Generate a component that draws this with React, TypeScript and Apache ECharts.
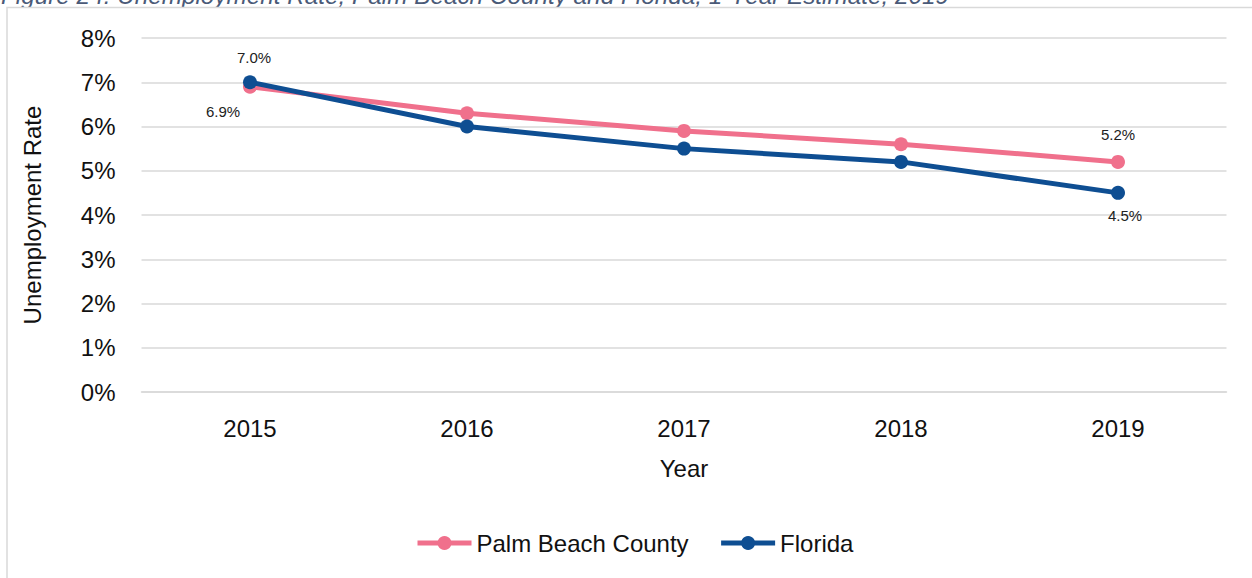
import React, { useEffect, useRef } from "react";
import * as echarts from "echarts";

const titleText = "Figure 24. Unemployment Rate, Palm Beach County and Florida, 1-Year Estimate, 2019";
const years = ["2015", "2016", "2017", "2018", "2019"];
const palmBeach = [6.9, 6.3, 5.9, 5.6, 5.2];
const florida = [7.0, 6.0, 5.5, 5.2, 4.5];
const seriesNames = ["Palm Beach County", "Florida"];
const yTicks = [0, 1, 2, 3, 4, 5, 6, 7, 8];

const PINK = "#F0708C";
const BLUE = "#0E4E92";
const FONT = "'Liberation Sans', Arial, sans-serif";

export default function App() {
  const ref = useRef<HTMLDivElement>(null);
  useEffect(() => {
    if (!ref.current) return;
    const chart = echarts.init(ref.current, null, { renderer: "svg" });
    const labelStyle = { fontSize: 15, color: "#222", fontFamily: FONT, formatter: (p: any) => p.value.toFixed(1) + "%" };
    const pbData = palmBeach.map((v, i) => {
      if (i === 0) return { value: v, label: { show: true, position: "bottom", offset: [-27, 5], ...labelStyle } };
      if (i === palmBeach.length - 1) return { value: v, label: { show: true, position: "top", offset: [0, -8], ...labelStyle } };
      return v;
    });
    const flData = florida.map((v, i) => {
      if (i === 0) return { value: v, label: { show: true, position: "top", offset: [4, -5], ...labelStyle } };
      if (i === florida.length - 1) return { value: v, label: { show: true, position: "bottom", offset: [7, 3], ...labelStyle } };
      return v;
    });
    chart.setOption({
      animation: false,
      textStyle: { fontFamily: FONT },
      graphic: [
        {
          type: "text",
          x: 1,
          y: -4.5,
          style: {
            text: titleText,
            font: `italic 24.3px ${FONT}`,
            fill: "#4A5A78",
            verticalAlign: "middle",
          },
          silent: true,
          z: 1,
        },
        {
          type: "rect",
          shape: { x: 0, y: 7.5, width: 1252, height: 8 },
          style: { fill: "#fff" },
          silent: true,
          z: 2,
        },
        {
          type: "rect",
          shape: { x: 7, y: 7.5, width: 1300, height: 700 },
          style: { fill: "none", stroke: "#D9D9D9", lineWidth: 1.5 },
          silent: true,
          z: 3,
        },
      ],
      grid: { left: 141.5, right: 25.5, top: 38, bottom: 186, containLabel: false },
      legend: {
        data: seriesNames,
        left: 410,
        top: 526,
        itemWidth: 54,
        itemHeight: 17.5,
        itemGap: 30,
        lineStyle: { width: 5 },
        textStyle: { fontSize: 24, color: "#111", fontFamily: FONT },
      },
      xAxis: {
        type: "category",
        data: years,
        boundaryGap: true,
        name: "Year",
        nameLocation: "middle",
        nameGap: 64,
        nameTextStyle: { fontSize: 24, color: "#111", fontFamily: FONT },
        axisLine: { lineStyle: { color: "#D9D9D9", width: 1.5 } },
        axisTick: { show: false },
        axisLabel: { fontSize: 24, color: "#111", margin: 24, fontFamily: FONT },
      },
      yAxis: {
        type: "value",
        min: yTicks[0],
        max: yTicks[yTicks.length - 1],
        interval: 1,
        name: "Unemployment Rate",
        nameLocation: "middle",
        nameGap: 97,
        nameTextStyle: { fontSize: 24, color: "#111", fontFamily: FONT },
        axisLine: { show: false },
        axisTick: { show: false },
        axisLabel: { fontSize: 24, color: "#111", margin: 26, fontFamily: FONT, formatter: (v: number) => v + "%" },
        splitLine: { lineStyle: { color: "#D9D9D9", width: 1.5 } },
      },
      series: [
        {
          name: seriesNames[0],
          type: "line",
          data: pbData,
          symbol: "circle",
          symbolSize: 14,
          lineStyle: { color: PINK, width: 5 },
          itemStyle: { color: PINK },
          z: 2,
        },
        {
          name: seriesNames[1],
          type: "line",
          data: flData,
          symbol: "circle",
          symbolSize: 14,
          lineStyle: { color: BLUE, width: 5 },
          itemStyle: { color: BLUE },
          z: 3,
        },
      ],
    });
    return () => chart.dispose();
  }, []);
  return <div ref={ref} style={{ position: "absolute", left: 0, top: 0, width: 1252, height: 578 }} />;
}
